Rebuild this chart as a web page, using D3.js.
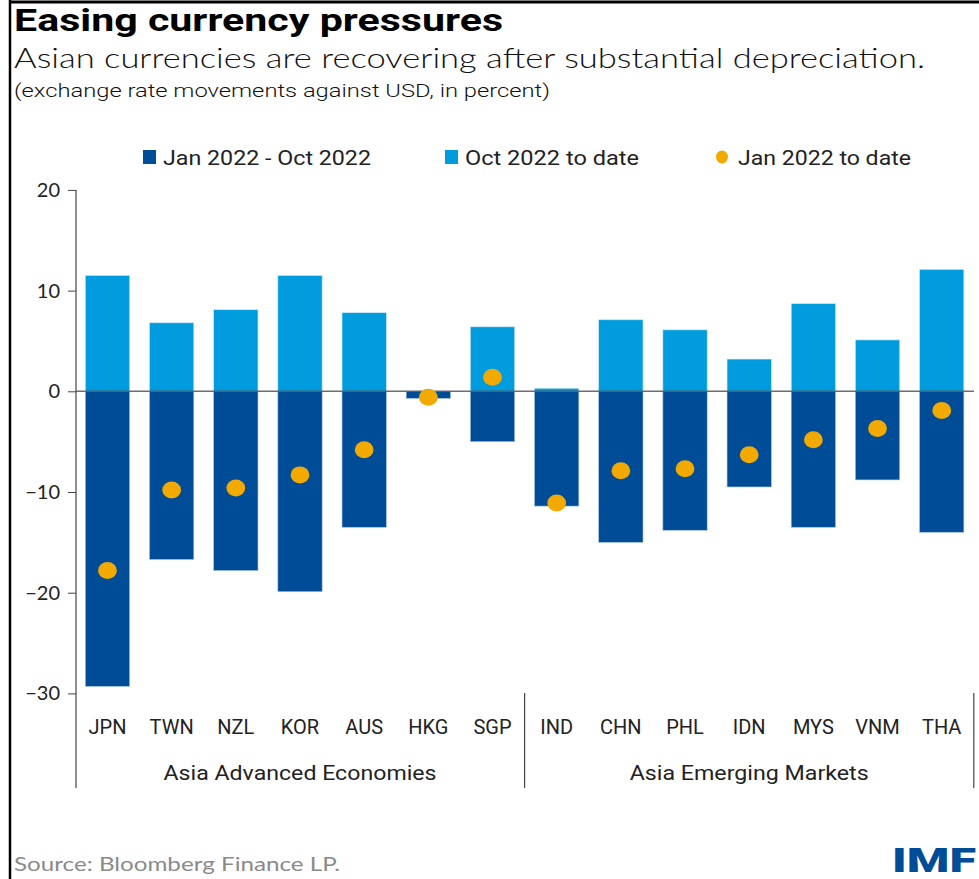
<!DOCTYPE html>
<html>
<head>
<meta charset="utf-8">
<script src="https://cdn.jsdelivr.net/npm/d3@7/dist/d3.min.js"></script>
<style>
  body { margin: 0; background: #fff; }
  svg { display: block; font-family: Lato, "Noto Sans", sans-serif; }
</style>
</head>
<body>
<div id="chart"></div>
<script>
// values (percent change against USD)
var countries = ["JPN", "TWN", "NZL", "KOR", "AUS", "HKG", "SGP", "IND", "CHN", "PHL", "IDN", "MYS", "VNM", "THA"];
var groups = ["Asia Advanced Economies", "Asia Emerging Markets"];
var groupSizes = [7, 7];
var janToOct = [-29.3, -16.7, -17.8, -19.9, -13.5, -0.7, -5.0, -11.4, -15.0, -13.8, -9.5, -13.5, -8.8, -14.0];
var octToDate = [11.5, 6.8, 8.1, 11.5, 7.8, 0.0, 6.4, 0.3, 7.1, 6.1, 3.2, 8.7, 5.1, 12.1];
var janToDate = [-17.8, -9.8, -9.6, -8.3, -5.8, -0.6, 1.4, -11.1, -7.9, -7.7, -6.3, -4.8, -3.7, -1.9];
var yTicks = [20, 10, 0, -10, -20, -30];
var legendLabels = ["Jan 2022 - Oct 2022", "Oct 2022 to date", "Jan 2022 to date"];

var darkBlue = "#004c97";
var lightBlue = "#009cde";
var orange = "#f2a900";

var width = 979, height = 879;

var svg = d3.select("#chart")
  .append("svg")
  .attr("width", width)
  .attr("height", height);

// frame
svg.append("line").attr("x1", 10).attr("x2", width).attr("y1", 2).attr("y2", 2)
  .attr("stroke", "#000").attr("stroke-width", 3);
svg.append("line").attr("x1", 10).attr("x2", 10).attr("y1", 0).attr("y2", height)
  .attr("stroke", "#000").attr("stroke-width", 2.5);

// titles
svg.append("text").attr("x", 14).attr("y", 31)
  .text("Easing currency pressures")
  .style("font-family", "Roboto, sans-serif")
  .style("font-weight", "bold").style("font-size", "31px")
  .attr("textLength", 489).attr("lengthAdjust", "spacingAndGlyphs");
svg.append("text").attr("x", 14).attr("y", 68)
  .text("Asian currencies are recovering after substantial depreciation.")
  .style("font-size", "28px").style("font-weight", 300).style("fill", "#111")
  .attr("textLength", 911).attr("lengthAdjust", "spacingAndGlyphs");
svg.append("text").attr("x", 14).attr("y", 97)
  .text("(exchange rate movements against USD, in percent)")
  .style("font-family", "Roboto, sans-serif")
  .style("font-size", "19px").style("font-weight", 300).style("fill", "#111")
  .attr("textLength", 536).attr("lengthAdjust", "spacingAndGlyphs");

// scales
var x = d3.scaleBand()
  .domain(countries)
  .range([75.4, 973.8])
  .paddingInner(0.31)
  .paddingOuter(0.155);

var y = d3.scaleLinear()
  .domain([-30, 20])
  .range([693.4, 189.9]);

// y axis
var yAxis = d3.axisLeft(y).tickValues(yTicks).tickSize(8).tickPadding(8);
var gy = svg.append("g").attr("transform", "translate(76,0)").call(yAxis);
gy.select(".domain").remove();
gy.selectAll(".tick line").attr("stroke", "#444");
gy.selectAll(".tick text")
  .style("font-family", "Lato, sans-serif")
  .style("font-size", "20px").style("fill", "#222");
svg.append("line").attr("x1", 76).attr("x2", 76).attr("y1", y(20)).attr("y2", 788)
  .attr("stroke", "#444").attr("stroke-width", 1.2);

// bars: Oct 2022 to date
svg.selectAll(".barOct")
  .data(countries)
  .enter()
  .append("rect")
  .attr("class", "barOct")
  .attr("x", function (d) { return x(d); })
  .attr("width", x.bandwidth())
  .attr("y", function (d, i) { return y(Math.max(0, octToDate[i])); })
  .attr("height", function (d, i) { return Math.abs(y(octToDate[i]) - y(0)); })
  .attr("fill", lightBlue)
  .attr("stroke", "#bfe6f7").attr("stroke-width", 0.6);

// bars: Jan 2022 - Oct 2022
svg.selectAll(".barJan")
  .data(countries)
  .enter()
  .append("rect")
  .attr("class", "barJan")
  .attr("x", function (d) { return x(d); })
  .attr("width", x.bandwidth())
  .attr("y", function (d, i) { return y(Math.max(0, janToOct[i])); })
  .attr("height", function (d, i) { return Math.abs(y(janToOct[i]) - y(0)); })
  .attr("fill", darkBlue)
  .attr("stroke", "#9fc0e0").attr("stroke-width", 0.6);

// zero line
svg.append("line").attr("x1", 76).attr("x2", 974).attr("y1", y(0)).attr("y2", y(0))
  .attr("stroke", "#555").attr("stroke-width", 1.5).attr("opacity", 0.85);

// dots: Jan 2022 to date
svg.selectAll(".dot")
  .data(countries)
  .enter()
  .append("ellipse")
  .attr("class", "dot")
  .attr("cx", function (d) { return x(d) + x.bandwidth() / 2; })
  .attr("cy", function (d, i) { return y(janToDate[i]); })
  .attr("rx", 9.4)
  .attr("ry", 8.5)
  .attr("fill", orange);

// category labels
svg.selectAll(".cat")
  .data(countries)
  .enter()
  .append("text")
  .attr("class", "cat")
  .attr("x", function (d) { return x(d) + x.bandwidth() / 2; })
  .attr("y", 734)
  .attr("text-anchor", "middle")
  .style("font-family", "Roboto, sans-serif")
  .style("font-size", "20px").style("fill", "#222")
  .text(function (d) { return d; });

// group labels and separators
var groupWidths = [273, 239];
var start = 0;
groups.forEach(function (g, gi) {
  var first = countries[start];
  var last = countries[start + groupSizes[gi] - 1];
  var left = x(first) - x.step() * x.paddingInner() / 2;
  var right = x(last) + x.bandwidth() + x.step() * x.paddingInner() / 2;
  svg.append("text")
    .attr("x", (left + right) / 2)
    .attr("y", 780)
    .attr("text-anchor", "middle")
    .style("font-family", "Roboto, sans-serif")
    .style("font-size", "20px").style("fill", "#222")
    .attr("textLength", groupWidths[gi]).attr("lengthAdjust", "spacingAndGlyphs")
    .text(g);
  svg.append("line").attr("x1", right).attr("x2", right).attr("y1", 693).attr("y2", 788)
    .attr("stroke", "#444").attr("stroke-width", 1.2);
  start += groupSizes[gi];
});

// legend
var legendX = [143, 445, 715];
var legendWidths = [208, 174, 173];
var legendColors = [darkBlue, lightBlue, orange];
var legend = svg.selectAll(".legend")
  .data(legendLabels)
  .enter()
  .append("g")
  .attr("class", "legend")
  .attr("transform", function (d, i) { return "translate(" + legendX[i] + ",157)"; });

legend.each(function (d, i) {
  var g = d3.select(this);
  if (i < 2) {
    g.append("rect").attr("x", 0).attr("y", -7).attr("width", 13).attr("height", 14)
      .attr("fill", legendColors[i]);
  } else {
    g.append("ellipse").attr("cx", 7).attr("cy", 0).attr("rx", 6).attr("ry", 6.5)
      .attr("fill", legendColors[i]);
  }
  g.append("text")
    .attr("x", i < 2 ? 20 : 23)
    .attr("y", 8)
    .style("font-family", "Roboto, sans-serif")
    .style("font-size", "21px").style("fill", "#222")
    .attr("textLength", legendWidths[i]).attr("lengthAdjust", "spacingAndGlyphs")
    .text(d);
});

// source and logo
svg.append("text").attr("x", 14).attr("y", 871)
  .text("Source: Bloomberg Finance LP.")
  .style("font-size", "20px").style("fill", "#8a8a8a")
  .attr("textLength", 326).attr("lengthAdjust", "spacingAndGlyphs");
svg.append("text").attr("x", 892).attr("y", 872)
  .text("IMF")
  .style("font-family", "Roboto, sans-serif")
  .style("font-weight", "900").style("font-size", "34px").style("fill", darkBlue)
  .attr("textLength", 84).attr("lengthAdjust", "spacingAndGlyphs");
</script>
</body>
</html>
